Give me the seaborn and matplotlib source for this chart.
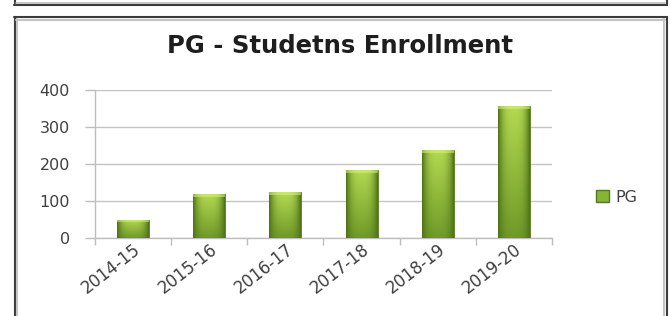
import numpy as np
import pandas as pd
import matplotlib
matplotlib.use("Agg")
import matplotlib.pyplot as plt
import seaborn as sns
from matplotlib.patches import Rectangle
from matplotlib.lines import Line2D
from matplotlib.colors import to_rgb

# ---- data ----
years = ["2014-15", "2015-16", "2016-17", "2017-18", "2018-19", "2019-20"]
pg_values = [50, 119, 123, 184, 238, 357]
y_ticks = [0, 100, 200, 300, 400]
title_text = "PG - Studetns Enrollment"
series_name = "PG"

df = pd.DataFrame({"Year": years, "Students": pg_values})

sns.set_theme(style="white")
plt.rcParams["font.family"] = ["DejaVu Sans"]

W, H = 670, 316
fig = plt.figure(figsize=(W / 100, H / 100), dpi=100)
fig.patch.set_facecolor("white")

# axes placement
x0, x1, ytop, ybot = 95, 552, 90, 238
ax = fig.add_axes([x0 / W, 1 - ybot / H, (x1 - x0) / W, (ybot - ytop) / H])

bar_green = "#84b534"
sns.barplot(data=df, x="Year", y="Students", color=bar_green, width=0.42,
            edgecolor="#55781c", linewidth=0.6, ax=ax, zorder=3, saturation=1)

# gradient shading clipped to each bar
def shade(patch):
    bb = patch.get_bbox()
    nx, ny = 40, 60
    xs = np.linspace(-1, 1, nx)
    ys = np.linspace(0, 1, ny)  # 0 bottom, 1 top
    light = np.array(to_rgb("#b4da52"))
    low = np.array(to_rgb("#6f9a28"))
    dark = np.array(to_rgb("#4f7418"))
    hprof = 1 - np.abs(xs) ** 3  # 1 center, 0 edges
    img = np.zeros((ny, nx, 3))
    for j, yy in enumerate(ys):
        base = low * (1 - yy) + light * yy
        for i, h in enumerate(hprof):
            img[j, i] = dark * (1 - h) + base * h
    img = img[::-1]
    im = ax.imshow(img, extent=[bb.x0, bb.x1, bb.y0, bb.y1], aspect="auto",
                   zorder=3.5, interpolation="bilinear")
    im.set_clip_path(patch)

for p in list(ax.patches):
    shade(p)
    bb = p.get_bbox()
    cap = Rectangle((bb.x0, bb.y1 - 8), bb.x1 - bb.x0, 8, facecolor="#d8ef88",
                    alpha=0.55, edgecolor="none", zorder=3.6)
    ax.add_patch(cap)
    cap.set_clip_path(p)

ax.set_xlim(-0.5, len(years) - 0.5)
ax.set_ylim(0, 400)
ax.set_yticks(y_ticks)
ax.set_yticklabels([str(v) for v in y_ticks])
ax.yaxis.grid(True, color="#c3c3c3", linewidth=1.0, zorder=0)
ax.xaxis.grid(False)
ax.set_axisbelow(True)
ax.set_xlabel("")
ax.set_ylabel("")

for s in ["top", "right"]:
    ax.spines[s].set_visible(False)
ax.spines["left"].set_color("#bdbdbd")
ax.spines["bottom"].set_color("#bdbdbd")
ax.spines["left"].set_linewidth(1.0)
ax.spines["bottom"].set_linewidth(1.0)

ax.tick_params(axis="y", length=7, width=1, color="#bdbdbd", labelsize=11.5,
               labelcolor="#404040", pad=11, left=True)
ax.tick_params(axis="x", length=0, labelsize=12, labelcolor="#404040", pad=2)
ax.set_xticks(np.arange(-0.5, len(years), 1), minor=True)
ax.tick_params(axis="x", which="minor", length=5, width=1, color="#bdbdbd", bottom=True)
for lbl in ax.get_xticklabels():
    lbl.set_rotation(38)
    lbl.set_ha("right")
    lbl.set_rotation_mode("anchor")

# title
fig.text(340 / W, 1 - 46 / H, title_text, ha="center", va="center",
         fontsize=17.5, fontweight="bold", color="#1e1e1e")

# legend
handle = Rectangle((0, 0), 1, 1, facecolor=bar_green, edgecolor="#55781c")
leg = fig.legend([handle], [series_name], loc="center left",
                 bbox_to_anchor=(582 / W, 1 - 197 / H), frameon=False,
                 fontsize=11.5, handlelength=0.8, handleheight=0.8,
                 handletextpad=0.4, labelcolor="#404040")

# frames
def hline(y, xa, xb, color, lw):
    fig.add_artist(Line2D([xa / W, xb / W], [1 - y / H, 1 - y / H],
                          color=color, linewidth=lw, transform=fig.transFigure))

def vline(x, ya, yb, color, lw):
    fig.add_artist(Line2D([x / W, x / W], [1 - ya / H, 1 - yb / H],
                          color=color, linewidth=lw, transform=fig.transFigure))

# upper box remains
vline(14.5, -2, 4.5, "#3c3c3c", 1.5)
vline(666.5, -2, 4.5, "#3c3c3c", 1.5)
hline(4.5, 14, 667, "#3c3c3c", 1.5)
hline(2.5, 16, 665, "#bdbdbd", 1.2)
# chart box
hline(17, 14, 667, "#3c3c3c", 1.5)
vline(14.5, 16.5, 318, "#3c3c3c", 1.5)
vline(666.5, 16.5, 318, "#3c3c3c", 1.5)
hline(19.5, 16, 665, "#c4c4c4", 1.5)
vline(17, 19, 318, "#c4c4c4", 1.5)
vline(664, 19, 318, "#c4c4c4", 1.5)

fig.savefig("out.png", dpi=100, facecolor="white")
